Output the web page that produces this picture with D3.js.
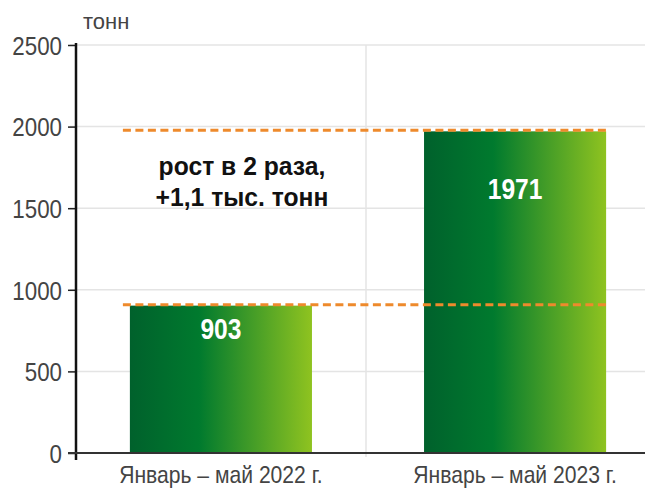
<!DOCTYPE html>
<html><head><meta charset="utf-8">
<script src="https://cdn.jsdelivr.net/npm/d3@7"></script>
<style>
html,body{margin:0;padding:0;background:#fff;}
svg{display:block;}
</style></head>
<body>
<svg id="chart" width="645" height="490"></svg>
<script>
const categories = ["Январь – май 2022 г.", "Январь – май 2023 г."];
const values = [903, 1971];
const yTicks = [0, 500, 1000, 1500, 2000, 2500];
const unitLabel = "тонн";
const noteLines = ["рост в 2 раза,", "+1,1 тыс. тонн"];

const FONT = "'Liberation Sans', Arial, Helvetica, sans-serif";
const svg = d3.select("#chart");

const y = d3.scaleLinear().domain([0, 2500]).range([453, 45]);
const x = d3.scaleBand().domain(categories).range([74, 662]).paddingInner(0.381).paddingOuter(0.19);

// gradient
const defs = svg.append("defs");
const grad = defs.append("linearGradient").attr("id", "barGrad").attr("x1", "0").attr("x2", "1").attr("y1", "0").attr("y2", "0");
grad.append("stop").attr("offset", "0%").attr("stop-color", "#00612c");
grad.append("stop").attr("offset", "38%").attr("stop-color", "#007a2e");
grad.append("stop").attr("offset", "100%").attr("stop-color", "#8fc320");

// horizontal grid
svg.append("g").selectAll("line").data(yTicks.filter(d => d > 0)).join("line")
  .attr("x1", 70).attr("x2", 645).attr("y1", d => y(d)).attr("y2", d => y(d))
  .attr("stroke", "#e4e4e4").attr("stroke-width", 1.5);

// vertical separator grid
const sepX = (x(categories[0]) + x.bandwidth() + x(categories[1])) / 2 - 2;
svg.append("line").attr("x1", sepX).attr("x2", sepX).attr("y1", y(2500)).attr("y2", y(0) + 4)
  .attr("stroke", "#e4e4e4").attr("stroke-width", 1.5);

// bars
svg.append("g").selectAll("rect").data(values).join("rect")
  .attr("x", (d, i) => x(categories[i])).attr("width", x.bandwidth())
  .attr("y", d => y(d)).attr("height", d => y(0) - y(d))
  .attr("fill", "url(#barGrad)");

// dashed reference lines
svg.append("g").selectAll("line").data(values).join("line")
  .attr("x1", x(categories[0]) - 7).attr("x2", x(categories[1]) + x.bandwidth() + 1)
  .attr("y1", d => y(d) - 1).attr("y2", d => y(d) - 1)
  .attr("stroke", "#ee8a2c").attr("stroke-width", 3).attr("stroke-dasharray", "8,4.5");

// y axis
const tickScale = 0.86;
const yAxis = d3.axisLeft(y).tickValues(yTicks).tickFormat(d3.format("d")).tickSize(8);
const gy = svg.append("g").attr("transform", "translate(76,0)").call(yAxis);
gy.select(".domain").remove();
gy.selectAll(".tick line").attr("stroke", "#222").attr("stroke-width", 1.5);
gy.selectAll(".tick text").attr("font-family", FONT).attr("font-size", 26).attr("fill", "#444")
  .attr("x", -14 / tickScale).attr("dy", "0.36em").attr("transform", `scale(${tickScale},1)`);
svg.append("line").attr("x1", 76).attr("x2", 76).attr("y1", 43).attr("y2", 460)
  .attr("stroke", "#111").attr("stroke-width", 2.5);

// x axis
const xAxis = d3.axisBottom(x).tickSize(0).tickPadding(12);
const gx = svg.append("g").attr("transform", `translate(0,${y(0)})`).call(xAxis);
gx.select(".domain").remove();
gx.selectAll(".tick text").attr("font-family", FONT).attr("font-size", 24).attr("fill", "#444")
  .attr("y", 30).attr("dy", 0).attr("transform", "scale(0.88,1)");
svg.append("line").attr("x1", 68).attr("x2", 645).attr("y1", y(0)).attr("y2", y(0))
  .attr("stroke", "#333").attr("stroke-width", 2);

// value labels
const labelOffsets = [33, 68];
svg.append("g").selectAll("text").data(values).join("text")
  .attr("transform", (d, i) => `translate(${x(categories[i]) + x.bandwidth() / 2},${y(d) + labelOffsets[i]}) scale(0.82,1)`)
  .attr("text-anchor", "middle").attr("font-family", FONT).attr("font-weight", "bold")
  .attr("font-size", 30).attr("fill", "#fff").text(d => d);

// unit label
svg.append("text").attr("x", 83).attr("y", 29).attr("font-family", FONT)
  .attr("font-size", 22).attr("fill", "#444").text(unitLabel);

// note
svg.append("g").selectAll("text").data(noteLines).join("text")
  .attr("transform", (d, i) => `translate(242,${175 + i * 31}) scale(0.95,1)`)
  .attr("text-anchor", "middle").attr("font-family", FONT).attr("font-weight", "bold")
  .attr("font-size", 26).attr("fill", "#111").text(d => d);
</script>
</body></html>
